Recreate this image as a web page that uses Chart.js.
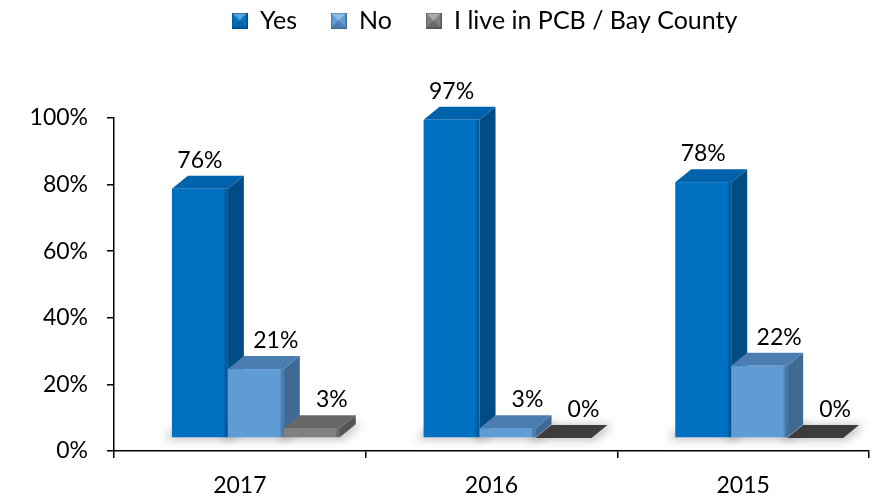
<!DOCTYPE html>
<html>
<head>
<meta charset="utf-8">
<script src="https://cdn.jsdelivr.net/npm/chart.js@4/dist/chart.umd.min.js"></script>
<style>
	html, body { margin: 0; padding: 0; background: #fff; }
	#wrap { width: 884px; height: 497px; }
</style>
</head>
<body>
<div id="wrap"><canvas id="chart"></canvas></div>
<script>
// Chart data
const years = ['2017', '2016', '2015'];
const yesValues = [76, 97, 78];
const noValues = [21, 3, 22];
const bayValues = [3, 0, 0];
const seriesNames = ['Yes', 'No', 'I live in PCB / Bay County'];
const yTicks = [0, 20, 40, 60, 80, 100];

const FONT = 'Lato';

// colours for the three faces of each series
const faces = [
	{ front: '#0070C0', side: '#004C85', top: '#0062AA', zero: '#00508C' },
	{ front: '#5F9BD4', side: '#3F6A93', top: '#4B7DB0', zero: '#3F6A93' },
	{ front: '#808080', side: '#555555', top: '#686868', zero: '#3C3C3C' },
];

// 3D look
const depthX = 16;
const depthY = 13;
const lift = 13;
const shift = 16;

// little legend boxes like the office ones
function legendBox(c) {
	const cv = document.createElement('canvas');
	cv.width = 16;
	cv.height = 16;
	const g = cv.getContext('2d');
	g.fillStyle = c.front;
	g.fillRect(0, 0, 16, 16);
	g.fillStyle = c.top;
	g.beginPath();
	g.moveTo(0, 16); g.lineTo(16, 16); g.lineTo(8, 8); g.closePath();
	g.fill();
	g.fillStyle = 'rgba(255,255,255,0.35)';
	g.beginPath();
	g.moveTo(0, 0); g.lineTo(16, 0); g.lineTo(8, 8); g.closePath();
	g.fill();
	g.strokeStyle = c.side;
	g.lineWidth = 1;
	g.strokeRect(0.5, 0.5, 15, 15);
	return cv;
}

// make room under the legend and move it to where the original sits
const legendSpace = {
	id: 'legendSpace',
	beforeInit(chart) {
		const fit = chart.legend.fit;
		chart.legend.fit = function () {
			fit.call(this);
			this.height = 118;
		};
	},
	afterLayout(chart) {
		chart.legend.left = 100;
	},
};

const bars3d = {
	id: 'bars3d',
	afterDatasetsDraw(chart) {
		const ctx = chart.ctx;
		const n = chart.data.labels.length;
		const metas = chart.data.datasets.map((d, i) => chart.getDatasetMeta(i));
		const boxes = [];
		for (let i = 0; i < n; i++) {
			metas.forEach((meta, d) => {
				const el = meta.data[i];
				const x1 = el.x - el.width / 2 + shift;
				const x2 = x1 + el.width;
				const base = el.base - lift;
				const top = base - (el.base - el.y) * 0.985;
				boxes.push({ d, x1, x2, base, top, v: chart.data.datasets[d].data[i] });
			});
		}
		ctx.save();
		// soft floor shadow
		ctx.filter = 'blur(5px)';
		ctx.fillStyle = 'rgba(0,0,0,0.25)';
		boxes.forEach((b) => {
			ctx.beginPath();
			ctx.moveTo(b.x1 - 8, b.base + 2);
			ctx.lineTo(b.x2 + 4, b.base + 2);
			ctx.lineTo(b.x2 + depthX + 6, b.base - depthY);
			ctx.lineTo(b.x1 + depthX - 8, b.base - depthY);
			ctx.closePath();
			ctx.fill();
		});
		ctx.filter = 'none';
		boxes.forEach((b) => {
			const c = faces[b.d];
			if (b.v === 0) {
				ctx.fillStyle = c.zero;
				ctx.beginPath();
				ctx.moveTo(b.x1, b.base);
				ctx.lineTo(b.x2, b.base);
				ctx.lineTo(b.x2 + depthX, b.base - depthY);
				ctx.lineTo(b.x1 + depthX, b.base - depthY);
				ctx.closePath();
				ctx.fill();
				return;
			}
			// side
			ctx.fillStyle = c.side;
			ctx.beginPath();
			ctx.moveTo(b.x2, b.top);
			ctx.lineTo(b.x2 + depthX, b.top - depthY);
			ctx.lineTo(b.x2 + depthX, b.base - depthY);
			ctx.lineTo(b.x2, b.base);
			ctx.closePath();
			ctx.fill();
			// top
			ctx.fillStyle = c.top;
			ctx.beginPath();
			ctx.moveTo(b.x1, b.top);
			ctx.lineTo(b.x1 + depthX, b.top - depthY);
			ctx.lineTo(b.x2 + depthX, b.top - depthY);
			ctx.lineTo(b.x2, b.top);
			ctx.closePath();
			ctx.fill();
			// front
			const gr = ctx.createLinearGradient(b.x1, 0, b.x2, 0);
			gr.addColorStop(0, c.front);
			gr.addColorStop(0.08, c.front);
			gr.addColorStop(0.92, c.front);
			gr.addColorStop(1, c.side);
			ctx.fillStyle = gr;
			ctx.fillRect(b.x1, b.top, b.x2 - b.x1, b.base - b.top);
		});
		// value labels
		ctx.fillStyle = '#000';
		ctx.font = '23px ' + FONT;
		ctx.textAlign = 'center';
		ctx.textBaseline = 'alphabetic';
		boxes.forEach((b) => {
			const cx = (b.x1 + b.x2) / 2 + (b.d === 0 ? 0 : 20);
			ctx.fillText(b.v + '%', cx, b.top - depthY - 8);
		});
		ctx.restore();
	},
};

const ctx = document.getElementById('chart').getContext('2d');
const chart = new Chart(ctx, {
	type: 'bar',
	data: {
		labels: years,
		datasets: [
			{ label: seriesNames[0], data: yesValues },
			{ label: seriesNames[1], data: noValues },
			{ label: seriesNames[2], data: bayValues },
		].map((ds) => ({
			...ds,
			backgroundColor: 'rgba(0,0,0,0)',
			borderWidth: 0,
			categoryPercentage: 0.667,
			barPercentage: 1,
		})),
	},
	options: {
		responsive: true,
		maintainAspectRatio: false,
		animation: false,
		layout: { padding: { left: 0, right: 15, top: 0, bottom: 0 } },
		plugins: {
			tooltip: { enabled: false },
			legend: {
				position: 'top',
				labels: {
					font: { family: FONT, size: 25 },
					color: '#000',
					boxWidth: 16,
					boxHeight: 16,
					usePointStyle: true,
					padding: 8,
					generateLabels(chart) {
						return chart.data.datasets.map((ds, i) => ({
							text: i < 2 ? ds.label + '    ' : ds.label,
							pointStyle: legendBox(faces[i]),
							fillStyle: faces[i].front,
							strokeStyle: faces[i].side,
							lineWidth: 0,
							hidden: false,
							datasetIndex: i,
						}));
					},
				},
			},
		},
		scales: {
			x: {
				afterFit(scale) {
					scale.height = 46;
				},
				grid: {
					offset: true,
					drawOnChartArea: false,
					tickLength: 7,
					color: '#000',
					lineWidth: 1.5,
				},
				border: { color: '#000', width: 1.5 },
				ticks: {
					color: '#000',
					font: { family: FONT, size: 23 },
					padding: 14,
				},
			},
			y: {
				min: 0,
				max: 100,
				afterFit(scale) {
					scale.width = 114;
				},
				afterBuildTicks(scale) {
					scale.ticks = yTicks.map((v) => ({ value: v }));
				},
				grid: {
					drawOnChartArea: false,
					tickLength: 7,
					color: '#000',
					lineWidth: 1.5,
				},
				border: { color: '#000', width: 1.5 },
				ticks: {
					color: '#000',
					font: { family: FONT, size: 23 },
					padding: 19,
					callback: (v) => v + '%',
				},
			},
		},
	},
	plugins: [legendSpace, bars3d],
});
</script>
</body>
</html>
